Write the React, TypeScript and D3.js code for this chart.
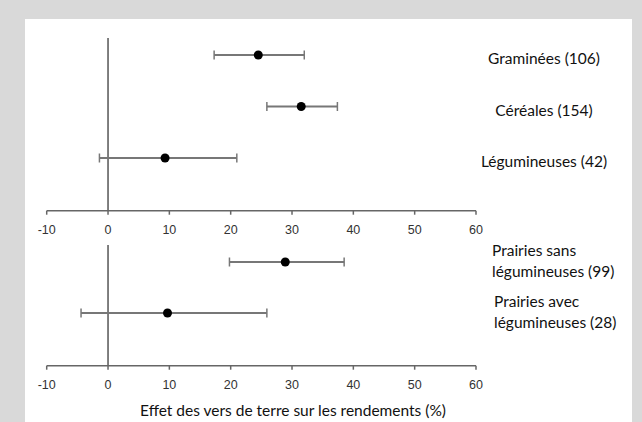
import * as d3 from "d3";

// rows of the forest plot, top panel then bottom panel
const topGroups = ["Graminées (106)", "Céréales (154)", "Légumineuses (42)"];
const topMean = [24.5, 31.5, 9.3];
const topLow = [17.3, 25.9, -1.4];
const topHigh = [32.0, 37.4, 21.0];

const bottomGroups = ["Prairies sans|légumineuses (99)", "Prairies avec|légumineuses (28)"];
const bottomMean = [28.9, 9.7];
const bottomLow = [19.8, -4.4];
const bottomHigh = [38.5, 25.9];

const xTicks = [-10, 0, 10, 20, 30, 40, 50, 60];
const xTitle = "Effet des vers de terre sur les rendements (%)";

const W = 642;
const H = 422;
const LABEL_FONT = "Lato, 'Open Sans', sans-serif";
const TICK_FONT = "'Liberation Sans', Arial, sans-serif";

const x = d3.scaleLinear().domain([-10, 60]).range([46.7, 476]);

type PanelProps = {
  groups: string[];
  mean: number[];
  low: number[];
  high: number[];
  top: number;
  axisY: number;
  rowRange: [number, number];
};

const Panel = ({ groups, mean, low, high, top, axisY, rowRange }: PanelProps) => {
  const y = d3.scalePoint<string>().domain(groups).range(rowRange);
  const cap = 4.5;

  return (
    <g>
      {/* zero line */}
      <line x1={x(0)} x2={x(0)} y1={top} y2={axisY} stroke="#555" strokeWidth={1.5} />
      {/* axis */}
      <line x1={x(-10)} x2={x(60)} y1={axisY} y2={axisY} stroke="#666" strokeWidth={1.5} />
      {xTicks.map((t) => (
        <g key={t}>
          <line x1={x(t)} x2={x(t)} y1={axisY} y2={axisY + 4} stroke="#666" strokeWidth={1.5} />
          <text
            x={x(t)}
            y={axisY + 19}
            textAnchor="middle"
            dominantBaseline="central"
            fontSize={12.5}
            fontFamily={TICK_FONT}
            fill="#333"
          >
            {t}
          </text>
        </g>
      ))}
      {groups.map((g, i) => {
        const cy = y(g) ?? 0;
        const lines = g.split("|");
        return (
          <g key={g}>
            <line x1={x(low[i])} x2={x(high[i])} y1={cy} y2={cy} stroke="#777" strokeWidth={2} />
            <line x1={x(low[i])} x2={x(low[i])} y1={cy - cap} y2={cy + cap} stroke="#777" strokeWidth={1.5} />
            <line x1={x(high[i])} x2={x(high[i])} y1={cy - cap} y2={cy + cap} stroke="#777" strokeWidth={1.5} />
            <circle cx={x(mean[i])} cy={cy} r={4.5} fill="#000" />
            {lines.length === 1 ? (
              <text
                x={544}
                y={cy + 3}
                textAnchor="middle"
                dominantBaseline="central"
                fontSize={15.5}
                fontFamily={LABEL_FONT}
                fill="#111"
              >
                {lines[0]}
              </text>
            ) : (
              lines.map((l, k) => (
                <text
                  key={k}
                  x={492 + i * 2}
                  y={cy - 12 + k * 21}
                  dominantBaseline="central"
                  fontSize={15.5}
                  fontFamily={LABEL_FONT}
                  fill="#111"
                >
                  {l}
                </text>
              ))
            )}
          </g>
        );
      })}
    </g>
  );
};

export default function App() {
  return (
    <svg
      width={W}
      height={H}
      style={{ position: "absolute", left: 0, top: 0, display: "block" }}
    >
      <rect x={0} y={0} width={W} height={H} fill="#d9d9d9" />
      <rect x={25} y={19} width={607} height={H - 19} fill="#fff" />
      <Panel
        groups={topGroups}
        mean={topMean}
        low={topLow}
        high={topHigh}
        top={38}
        axisY={210.7}
        rowRange={[55, 158]}
      />
      <Panel
        groups={bottomGroups}
        mean={bottomMean}
        low={bottomLow}
        high={bottomHigh}
        top={245}
        axisY={365.7}
        rowRange={[262, 313]}
      />
      <text
        x={293}
        y={410}
        textAnchor="middle"
        dominantBaseline="central"
        fontSize={15.5}
        fontFamily={LABEL_FONT}
        fill="#111"
      >
        {xTitle}
      </text>
    </svg>
  );
}
